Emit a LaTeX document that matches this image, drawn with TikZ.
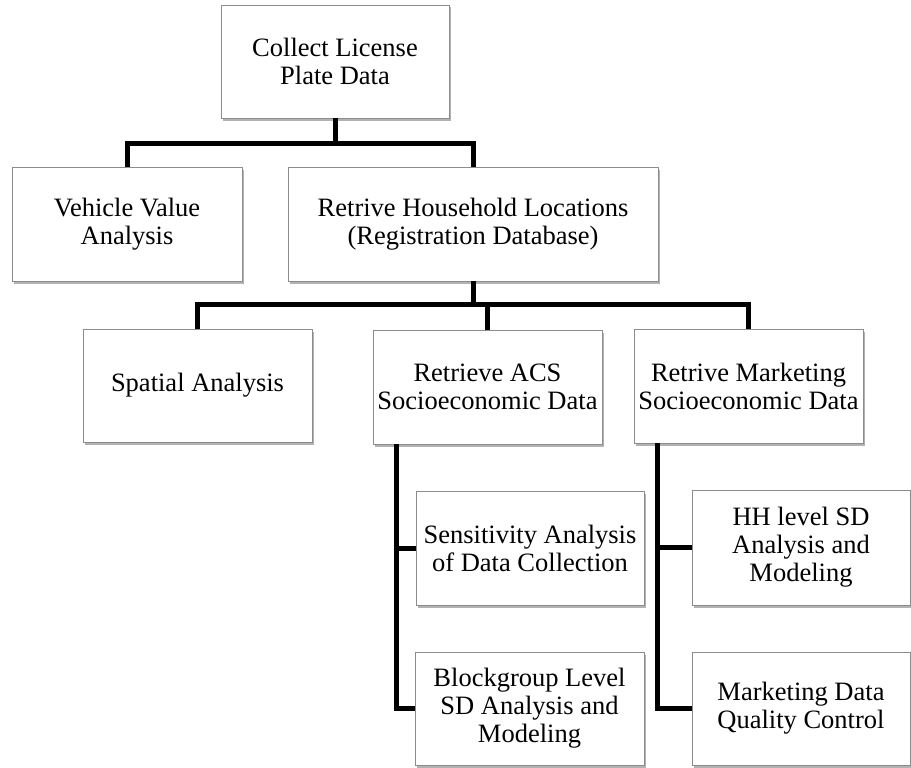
\documentclass[tikz,border=0pt]{standalone}
\usepackage{fontspec}
\setmainfont{Liberation Serif}
\usetikzlibrary{shadows,calc}
\tikzset{
  box/.style={draw=black!45, line width=0.9pt, fill=white, anchor=north west,
    inner sep=0pt, outer sep=0pt, align=center,
    font=\fontsize{26.5}{28}\selectfont,
    drop shadow={shadow xshift=1.5pt, shadow yshift=-2.5pt, fill=black, opacity=0.3}},
  conn/.style={line width=5pt, line join=miter, line cap=butt}
}
\begin{document}
\begin{tikzpicture}[x=1pt,y=-1pt]
\useasboundingbox (0,0) rectangle (911,768);
\coordinate (b1) at (335,143);
\coordinate (b2) at (473,304);
% boxes
\node[box, minimum width=228pt, minimum height=113pt] (collect) at (221,5) {Collect License\\Plate Data};
\node[box, minimum width=230pt, minimum height=114pt] (vehicle) at (12,167) {Vehicle Value\\Analysis};
\node[box, minimum width=370pt, minimum height=114pt] (house) at (288,167) {Retrive Household Locations\\(Registration Database)};
\node[box, minimum width=229pt, minimum height=113pt] (spatial) at (83,329) {Spatial Analysis};
\node[box, minimum width=229pt, minimum height=114pt] (acs) at (373,330) {Retrieve ACS\\Socioeconomic Data};
\node[box, minimum width=229pt, minimum height=114pt] (mkt) at (634,329) {Retrive Marketing\\Socioeconomic Data};
\node[box, minimum width=228pt, minimum height=114pt] (sens) at (416,491) {Sensitivity Analysis\\of Data Collection};
\node[box, minimum width=229pt, minimum height=113pt] (block) at (415,652) {Blockgroup Level\\SD Analysis and\\Modeling};
\node[box, minimum width=218pt, minimum height=115pt] (hh) at (692,490) {HH level SD\\Analysis and\\Modeling};
\node[box, minimum width=218pt, minimum height=113pt] (mdq) at (692,652) {Marketing Data\\Quality Control};
% connectors
\draw[conn] (collect.south) -- (b1);
\draw[conn] (vehicle.north) |- (b1) -| (house.north);
\draw[conn] (house.south) -- (b2);
\draw[conn] (spatial.north) |- (b2) -| (mkt.north);
\draw[conn] (acs.north) -- (acs.north |- b2);
\draw[conn] ($(acs.south west)+(23,0)$) |- (block.west);
\draw[conn] ($(acs.south west)+(23,0)$) |- (sens.west);
\draw[conn] ($(mkt.south west)+(23,0)$) |- (mdq.west);
\draw[conn] ($(mkt.south west)+(23,0)$) |- (hh.west);
\end{tikzpicture}
\end{document}
